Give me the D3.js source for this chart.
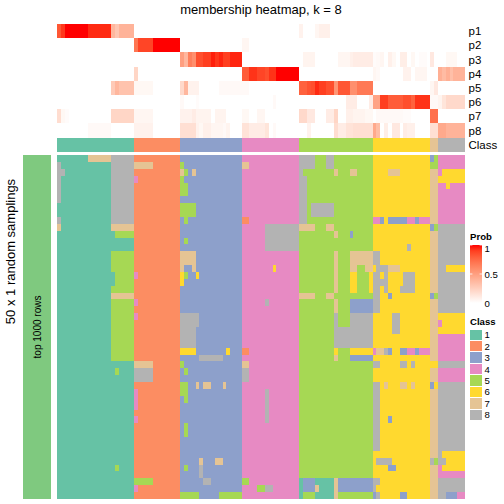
<!DOCTYPE html>
<html><head><meta charset="utf-8">
<script src="https://cdn.jsdelivr.net/npm/d3@7"></script>
<style>html,body{margin:0;padding:0;background:#fff}svg{display:block}text{font-family:"Liberation Sans",Arial,sans-serif;fill:#000}</style>
</head><body><svg id="c" width="504" height="504"></svg>
<script>
const title = "membership heatmap, k = 8";
const probNames = ["p1","p2","p3","p4","p5","p6","p7","p8"];
const classIds = [1,2,3,4,5,6,7,8];
const classColors = ["#66C2A5","#FC8D62","#8DA0CB","#E78AC3","#A6D854","#FFD92F","#E5C494","#B3B3B3"];
const classSizes = [20,12,16,15,19,15,2,7];
const probTicks = [1,0.5,0];
const rowCount = 50;

// membership per sample, as [firstSample, endSample, probability]
const p1 = [[0,1,.82],[1,2,.92],[2,8,1],[8,14,.95],[14,15,.38],[15,16,.3],[16,20,.4],[63,64,.07],[67,68,.05],[68,71,.08]];
const p2 = [[20,21,.7],[21,25,.88],[25,32,1],[48,50,.05]];
const p3 = [[32,33,.5],[33,34,.38],[34,35,.65],[35,36,.58],[36,38,.85],[38,40,.9],[40,41,.97],[41,42,.92],[42,43,.96],[43,45,.9],[45,48,.96],[64,67,.06],[73,76,.05],[76,77,.08],[77,82,.1],[82,83,.02],[83,84,.03],[84,85,.05],[86,87,.08],[87,88,.04],[89,91,.09],[92,93,.04],[94,96,.02],[97,98,.12],[101,104,.04]];
const p4 = [[20,21,.22],[48,50,.8],[50,52,.93],[52,54,.88],[54,55,.85],[55,57,.93],[57,63,1],[82,83,.05],[83,84,.03],[90,92,.07],[93,96,.05],[99,100,.42],[100,101,.36],[101,102,.42],[102,103,.34],[103,106,.4]];
const p5 = [[14,15,.28],[15,16,.38],[16,20,.32],[20,25,.04],[32,33,.2],[33,34,.38],[34,37,.07],[42,50,.03],[63,65,.78],[65,66,.83],[66,67,.85],[67,68,.95],[68,70,.9],[70,72,.85],[72,73,.55],[73,76,.82],[76,78,.58],[78,82,.68],[97,98,.05],[98,99,.12]];
const p6 = [[32,33,.03],[36,37,.02],[56,57,.03],[75,78,.1],[81,82,.1],[82,84,.48],[84,86,.9],[86,90,.8],[90,92,.85],[92,93,.78],[93,97,.93],[97,99,.03],[99,100,.06],[100,101,.14],[101,106,.2]];
const p7 = [[0,1,.18],[1,2,.04],[2,3,.02],[14,20,.22],[20,25,.05],[32,35,.07],[35,36,.1],[36,40,.06],[41,44,.06],[48,50,.04],[52,54,.05],[63,65,.2],[65,67,.12],[70,72,.1],[72,73,.22],[75,77,.08],[77,80,.06],[80,82,.04],[83,90,.03],[90,92,.02],[97,99,.72]];
const p8 = [[8,14,.03],[20,25,.07],[32,36,.17],[36,37,.07],[37,38,.04],[38,40,.08],[40,43,.05],[43,44,.03],[44,45,.06],[48,50,.15],[50,54,.1],[54,55,.14],[56,57,.03],[65,66,.07],[72,73,.18],[73,75,.1],[75,77,.15],[77,82,.17],[82,83,.45],[83,84,.35],[85,86,.09],[87,89,.12],[90,91,.1],[91,93,.08],[97,99,.17],[99,101,.45],[101,106,.4]];
const probRuns = [p1,p2,p3,p4,p5,p6,p7,p8];

// sampling matrix cells that differ from the sample's class: [firstRow, lastRow, firstSample, endSample, class]
const changesClass1 = [
 [0,0,8,14,7],[0,9,14,20,8],[10,10,14,20,7],[11,11,15,20,5],[14,16,14,20,5],[17,18,15,20,5],[19,19,14,20,5],[20,20,14,20,7],[21,29,14,20,5],
 [1,6,0,1,8],[2,2,1,2,8],[9,9,0,1,8],[10,10,0,1,7],[31,31,15,16,5],[45,45,15,16,5]];
const changesClass2 = [
 [1,1,20,25,7],[3,3,20,21,4],[17,17,20,21,4],[21,21,20,21,4],[23,23,20,21,4],[30,30,20,25,7],[31,32,20,25,8],[34,36,20,21,4],[38,38,20,21,4],[47,47,20,25,5],[48,48,20,21,4]];
const changesClass3 = [
 [1,1,32,33,5],[2,2,32,33,7],[2,2,33,34,5],[2,2,35,36,7],[3,3,32,33,5],[4,5,32,34,5],[7,8,32,36,5],[9,9,33,34,5],[12,12,33,34,5],[14,15,32,36,7],[16,16,32,33,7],[16,16,35,36,7],
 [17,17,32,33,6],[17,17,33,34,5],[17,17,36,37,6],[18,18,32,33,6],[23,24,32,37,8],[25,27,32,36,8],[28,28,32,36,6],[28,28,44,45,6],[29,29,37,43,8],[30,30,32,33,5],[31,31,33,34,5],
 [33,34,32,34,5],[33,33,36,37,7],[33,33,38,40,7],[33,33,43,44,7],[35,35,33,34,5],[39,40,33,34,5],[44,44,37,38,7],[44,44,41,43,7],[45,45,33,34,5],[45,46,37,38,8],[47,47,38,40,8],[49,49,32,37,5],[49,49,42,48,5]];
const changesClass4 = [
 [1,1,48,50,7],[9,9,48,50,2],[10,13,54,63,8],[16,16,56,57,6],[21,21,54,55,8],[28,28,48,50,2],[30,30,48,50,7],[31,32,48,50,8],[34,38,54,55,8],[47,47,48,50,5],[48,48,52,54,5],[48,48,54,56,8]];
const changesClass5 = [
 [0,1,63,67,8],[0,1,70,72,8],[2,2,63,64,8],[2,2,72,73,7],[2,2,76,78,7],[3,9,63,65,8],[7,8,66,72,8],[10,10,63,67,7],[10,10,70,72,7],[11,11,72,73,7],[11,11,76,77,3],
 [14,15,72,73,7],[14,15,76,82,7],[16,16,72,73,7],[16,16,76,78,7],[16,16,80,82,7],[17,19,72,73,7],[17,19,76,78,6],[17,19,81,82,6],[20,20,63,67,7],[20,20,70,72,7],[21,22,72,73,7],[21,22,76,82,3],
 [23,24,72,73,8],[23,24,76,82,8],[25,27,72,82,8],[28,28,72,73,6],[28,28,76,82,6],[29,29,72,73,7],[29,29,76,82,3],
 [47,47,63,64,1],[47,47,64,67,3],[47,47,67,72,1],[47,47,72,73,7],[47,47,73,82,3],[48,48,63,64,1],[48,48,64,67,3],[48,48,67,68,7],[48,48,68,72,1],[48,48,72,73,7],[48,48,73,82,3],[49,49,63,64,1],[49,49,67,72,1],[49,49,72,73,7]];
const changesClass6 = [
 [2,2,86,89,7],[9,9,82,84,4],[9,9,84,85,3],[9,9,86,91,3],[9,9,91,93,4],[9,9,93,94,3],[9,9,94,97,4],[13,13,91,92,8],[14,15,82,84,8],[16,16,83,86,8],[16,16,86,89,7],
 [17,17,82,84,8],[17,17,85,86,8],[17,18,90,93,8],[18,18,82,86,8],[19,19,82,84,8],[19,19,85,86,8],[19,19,89,93,8],[20,20,82,84,8],[20,20,86,87,3],[21,22,82,84,8],[23,25,87,89,8],
 [28,28,82,83,4],[28,28,83,85,7],[28,28,85,86,8],[28,28,86,87,3],[28,28,89,91,3],[28,28,91,93,4],[28,28,93,94,3],[28,28,94,97,4],[30,30,82,84,8],[30,30,89,91,8],[30,30,92,93,8],
 [33,42,82,84,8],[33,33,85,86,7],[33,33,89,91,7],[33,33,92,93,7],[38,38,86,87,3],[44,44,83,87,8],[45,45,86,88,3],[47,47,82,84,8],[48,48,82,83,8],[49,49,82,83,3],[49,49,83,84,8],[49,49,89,91,3]];
const changesClass7 = [
 [0,0,97,98,3],[0,1,98,99,5],[1,1,97,98,5],[10,10,97,98,3],[10,10,98,99,5],[20,20,97,98,3],[20,20,98,99,5],[30,30,97,99,6],[33,33,97,98,3],[33,33,98,99,6],[44,44,97,98,8],[44,44,98,99,5]];
const changesClass8 = [
 [0,1,99,106,4],[2,2,99,100,4],[2,2,100,106,6],[3,3,99,106,6],[4,4,99,101,4],[4,4,101,102,6],[4,4,102,106,4],[5,9,99,106,4],[16,16,101,106,6],[23,25,99,106,6],[24,24,99,100,4],
 [26,29,99,106,4],[31,32,99,106,4],[43,43,100,106,6],[44,44,101,106,6],[45,45,99,100,4],[45,45,100,106,6],[46,46,99,106,4],[49,49,101,104,3],[49,49,104,106,4]];
const cellChanges = [changesClass1,changesClass2,changesClass3,changesClass4,changesClass5,changesClass6,changesClass7,changesClass8];

const sampleClass = classSizes.flatMap((n,i)=>d3.range(n).map(()=>classIds[i]));
const nSamples = sampleClass.length;

const x = d3.scaleLinear().domain([0,nSamples]).range([57,465]);
const yTop = d3.scaleBand().domain(probNames).range([24,137.5]);
const classTop = 138, classH = 14;
const y = d3.scaleLinear().domain([0,rowCount]).range([155,499]);
const colorOf = d3.scaleOrdinal().domain(classIds).range(classColors);
const heat = d3.scaleLinear().domain([0,1]).range(["#ffffff","#ff0000"]).interpolate(d3.interpolateLab);

const svg = d3.select("#c");
const crisp = g => g.attr("shape-rendering","crispEdges");

const matrix = d3.range(rowCount).map(()=>sampleClass.slice());
cellChanges.flat().forEach(([r0,r1,c0,c1,k])=>{
  for(let r=r0;r<=r1;r++) for(let c=c0;c<c1;c++) matrix[r][c]=k;
});

const probCells = probRuns.flatMap((runs,i)=>runs.map(([a,b,v])=>({name:probNames[i],a,b,v})));
svg.append("g").call(crisp).selectAll("rect").data(probCells).join("rect")
  .attr("x",d=>x(d.a)).attr("width",d=>x(d.b)-x(d.a))
  .attr("y",d=>yTop(d.name)).attr("height",yTop.bandwidth())
  .attr("fill",d=>heat(d.v));

svg.append("g").call(crisp).selectAll("rect").data(sampleClass).join("rect")
  .attr("x",(d,i)=>x(i)).attr("width",(d,i)=>x(i+1)-x(i))
  .attr("y",classTop).attr("height",classH)
  .attr("fill",d=>colorOf(d));

const cells = matrix.flatMap((row,r)=>row.map((k,c)=>({r,c,k})));
svg.append("g").call(crisp).selectAll("rect").data(cells).join("rect")
  .attr("x",d=>x(d.c)).attr("width",d=>x(d.c+1)-x(d.c))
  .attr("y",d=>y(d.r)).attr("height",d=>y(d.r+1)-y(d.r))
  .attr("fill",d=>colorOf(d.k));

svg.append("rect").attr("x",23).attr("y",155).attr("width",28).attr("height",344).attr("fill","#7FC97F");

svg.append("text").attr("x",261).attr("y",14).attr("text-anchor","middle").attr("font-size",13).text(title);
svg.append("g").selectAll("text").data(probNames).join("text")
  .attr("x",468.5).attr("y",d=>yTop(d)+yTop.bandwidth()/2+4.2).attr("font-size",11.5).text(d=>d);
svg.append("text").attr("x",468.5).attr("y",classTop+classH/2+4.2).attr("font-size",11.5).text("Class");
svg.append("text").attr("transform","translate(14.5,251.5) rotate(-90)").attr("text-anchor","middle").attr("font-size",13).text("50 x 1 random samplings");
svg.append("text").attr("transform","translate(40.5,327) rotate(-90)").attr("text-anchor","middle").attr("font-size",10).text("top 1000 rows");

const defs = svg.append("defs");
const grad = defs.append("linearGradient").attr("id","g").attr("x1",0).attr("x2",0).attr("y1",1).attr("y2",0);
d3.range(0,1.001,0.1).forEach(t=>grad.append("stop").attr("offset",t).attr("stop-color",heat(t)));
const legendY = d3.scaleLinear().domain([0,1]).range([303,245]);
svg.append("text").attr("x",470).attr("y",240).attr("font-size",9.6).attr("font-weight","bold").text("Prob");
svg.append("rect").attr("x",470).attr("y",legendY(1)).attr("width",12).attr("height",legendY(0)-legendY(1)).attr("fill","url(#g)");
svg.append("g").selectAll("line").data(probTicks).join("line")
  .attr("x1",470).attr("x2",482).attr("y1",d=>legendY(d)).attr("y2",d=>legendY(d))
  .attr("stroke","#fff").attr("stroke-width",.8).attr("stroke-dasharray","2.4 7.2");
svg.append("g").selectAll("text").data(probTicks).join("text")
  .attr("x",484.5).attr("y",d=>d===1?252:d===0?306.5:278).attr("font-size",9.6).text(d=>d);

const legendClass = d3.scaleBand().domain(classIds).range([329,420.5]);
svg.append("text").attr("x",470).attr("y",324.5).attr("font-size",9.6).attr("font-weight","bold").text("Class");
svg.append("g").call(crisp).selectAll("rect").data(classIds).join("rect")
  .attr("x",470).attr("width",12).attr("y",d=>legendClass(d)+.5).attr("height",legendClass.bandwidth()-1)
  .attr("fill",d=>colorOf(d));
svg.append("g").selectAll("text").data(classIds).join("text")
  .attr("x",484.5).attr("y",d=>legendClass(d)+legendClass.bandwidth()/2+3.5).attr("font-size",9.6).text(d=>d);
</script></body></html>
